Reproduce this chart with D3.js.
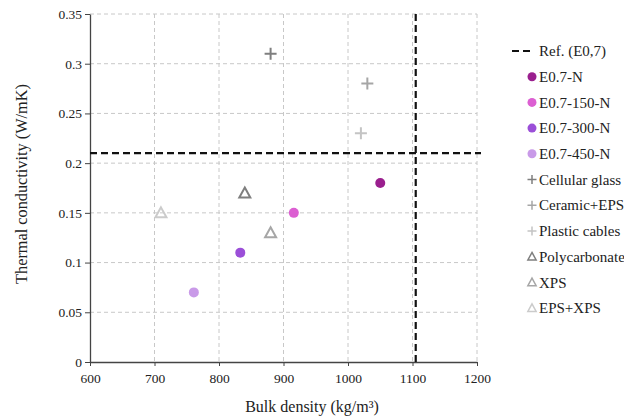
<!DOCTYPE html>
<html>
<head>
<meta charset="utf-8">
<script src="https://cdn.jsdelivr.net/npm/d3@7"></script>
<style>
  body { margin: 0; background: #fff; }
  svg text { font-family: "Liberation Serif", Tinos, "Times New Roman", "DejaVu Serif", serif; fill: #222; }
</style>
</head>
<body>
<svg id="chart" width="624" height="419"></svg>
<script>
// Series data (bulk density kg/m3, thermal conductivity W/mK)
var seriesNames = ["E0.7-N", "E0.7-150-N", "E0.7-300-N", "E0.7-450-N",
                   "Cellular glass", "Ceramic+EPS", "Plastic cables",
                   "Polycarbonate", "XPS", "EPS+XPS"];
var densities = [1050, 916, 833, 761, 880, 1030, 1020, 840, 880, 710];
var conductivities = [0.18, 0.15, 0.11, 0.07, 0.31, 0.28, 0.23, 0.17, 0.13, 0.15];
var shapes = ["circle", "circle", "circle", "circle", "cross", "cross", "cross",
              "triangle", "triangle", "triangle"];
var colors = ["#9a1f8e", "#dc5fd2", "#9b4fd8", "#c99ae8",
              "#7f7f7f", "#a6a6a6", "#c4c4c4",
              "#7f7f7f", "#a6a6a6", "#cbcbcb"];

// Reference lines for E0,7
var refDensity = 1105;
var refConductivity = 0.21;
var refLabel = "Ref. (E0,7)";

var xTicks = [600, 700, 800, 900, 1000, 1100, 1200];
var yTicks = [0, 0.05, 0.1, 0.15, 0.2, 0.25, 0.3, 0.35];

var margin = {left: 90, top: 14, right: 147, bottom: 57};
var width = 624 - margin.left - margin.right,
    height = 419 - margin.top - margin.bottom;

var x = d3.scaleLinear().domain([600, 1200]).range([0, width]);
var y = d3.scaleLinear().domain([0, 0.35]).range([height, 0]);

var svg = d3.select("#chart");
var g = svg.append("g")
  .attr("transform", "translate(" + margin.left + "," + margin.top + ")");

// Dashed grid
g.selectAll(".vgrid")
  .data(xTicks.slice(1))
  .enter().append("line")
  .attr("x1", function(d) { return x(d); })
  .attr("x2", function(d) { return x(d); })
  .attr("y1", 0).attr("y2", height)
  .attr("stroke", "#c8c8c8")
  .attr("stroke-dasharray", "4,3");

g.selectAll(".hgrid")
  .data(yTicks.slice(1))
  .enter().append("line")
  .attr("x1", 0).attr("x2", width)
  .attr("y1", function(d) { return y(d); })
  .attr("y2", function(d) { return y(d); })
  .attr("stroke", "#c8c8c8")
  .attr("stroke-dasharray", "4,3");

// Axes
var xAxis = g.append("g")
  .attr("transform", "translate(0," + height + ")")
  .call(d3.axisBottom(x).tickValues(xTicks).tickSize(4).tickSizeOuter(0)
    .tickFormat(d3.format("d")));
var yAxis = g.append("g")
  .call(d3.axisLeft(y).tickValues(yTicks).tickSize(5).tickSizeOuter(0)
    .tickFormat(function(d) { return String(+d.toFixed(2)); }));

[xAxis, yAxis].forEach(function(a) {
  a.attr("font-family", null);
  a.select(".domain").attr("stroke", "#444").attr("stroke-width", 1.3);
  a.selectAll(".tick line").attr("stroke", "#444");
  a.selectAll(".tick text")
    .style("font-size", "13.5px")
    .attr("fill", "#222");
});
xAxis.selectAll(".tick text").attr("dy", "1.05em");
yAxis.selectAll(".tick text").attr("x", -8);

// Reference lines
g.append("line")
  .attr("x1", 0).attr("x2", width + 4)
  .attr("y1", y(refConductivity)).attr("y2", y(refConductivity))
  .attr("stroke", "#111").attr("stroke-width", 2.2)
  .attr("stroke-dasharray", "7,4");
g.append("line")
  .attr("x1", x(refDensity)).attr("x2", x(refDensity))
  .attr("y1", 0).attr("y2", height)
  .attr("stroke", "#111").attr("stroke-width", 2.2)
  .attr("stroke-dasharray", "7,4");

// Marker drawing helper
function drawMarker(sel, shape, color) {
  if (shape === "circle") {
    sel.append("circle").attr("r", 5).attr("fill", color);
  } else if (shape === "cross") {
    sel.append("path").attr("d", "M-6,0H6M0,-6V6")
      .attr("stroke", color).attr("stroke-width", 2).attr("fill", "none");
  } else {
    sel.append("path").attr("d", "M0,-5.5L5.5,4.5H-5.5Z")
      .attr("stroke", color).attr("stroke-width", 2).attr("fill", "none");
  }
}

var points = seriesNames.map(function(n, i) {
  return {name: n, x: densities[i], y: conductivities[i], shape: shapes[i], color: colors[i]};
});

g.selectAll(".pt")
  .data(points)
  .enter().append("g")
  .attr("class", "pt")
  .attr("transform", function(d) { return "translate(" + x(d.x) + "," + y(d.y) + ")"; })
  .each(function(d) { drawMarker(d3.select(this), d.shape, d.color); });

// Axis titles
svg.append("text")
  .attr("x", 312)
  .attr("y", 412)
  .attr("text-anchor", "middle")
  .style("font-size", "16px")
  .text("Bulk density (kg/m\u00b3)");

svg.append("text")
  .attr("transform", "translate(27,184) rotate(-90)")
  .attr("text-anchor", "middle")
  .style("font-size", "16.3px")
  .text("Thermal conductivity (W/mK)");

// Legend
var legend = svg.append("g").attr("transform", "translate(532,51)");
var rowH = 25.7;

legend.append("line")
  .attr("x1", -20).attr("x2", 1).attr("y1", 0).attr("y2", 0)
  .attr("stroke", "#111").attr("stroke-width", 2.2)
  .attr("stroke-dasharray", "7,4");
legend.append("text")
  .attr("x", 7).attr("y", 0).attr("dy", "0.35em")
  .style("font-size", "15px")
  .text(refLabel);

var rows = legend.selectAll(".lrow")
  .data(points)
  .enter().append("g")
  .attr("class", "lrow")
  .attr("transform", function(d, i) { return "translate(0," + (i + 1) * rowH + ")"; });

rows.each(function(d) {
  var s = d3.select(this).append("g")
    .attr("transform", d.shape === "circle" ? "scale(0.9)" : "scale(0.75)");
  drawMarker(s, d.shape, d.color);
});
rows.append("text")
  .attr("x", 7).attr("y", 0).attr("dy", "0.35em")
  .style("font-size", "15px")
  .text(function(d) { return d.name; });
</script>
</body>
</html>
